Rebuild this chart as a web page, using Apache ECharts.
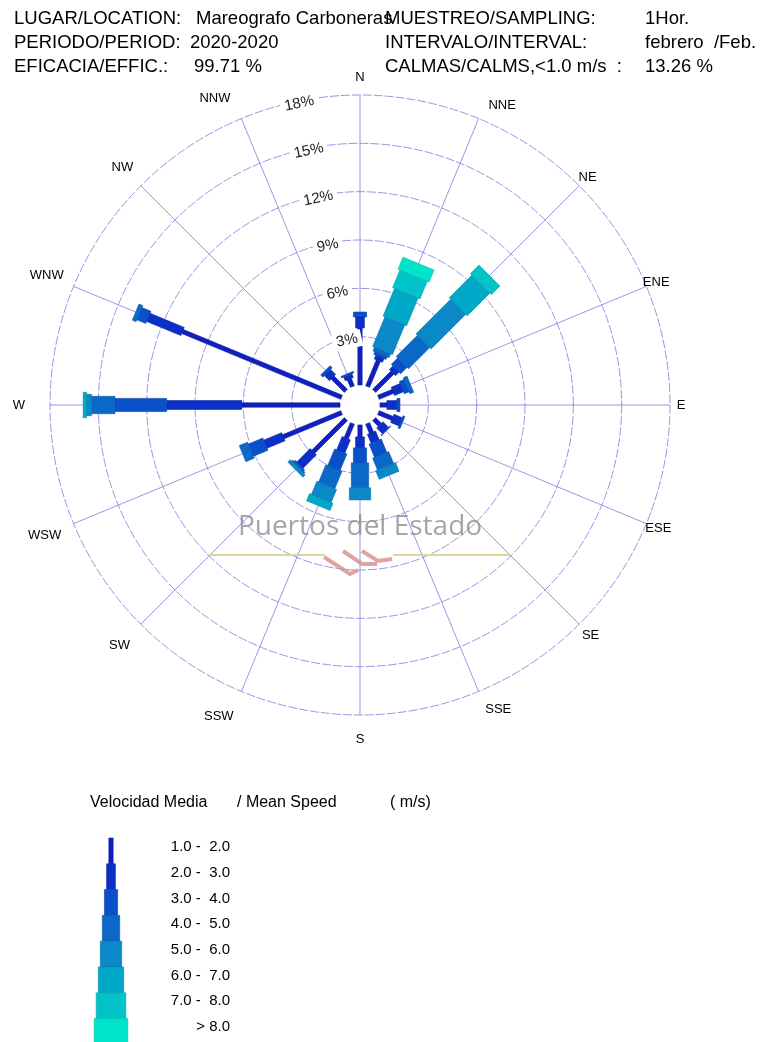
<!DOCTYPE html>
<html>
<head>
<meta charset="utf-8">
<script src="https://cdn.jsdelivr.net/npm/echarts@6/dist/echarts.min.js"></script>
<style>
html, body { margin: 0; padding: 0; background: #fff; }
#rose { width: 760px; height: 1042px; }
</style>
</head>
<body>
<div id="rose"></div>
<script>
const directions = ['N', 'NNE', 'NE', 'ENE', 'E', 'ESE', 'SE', 'SSE', 'S', 'SSW', 'SW', 'WSW', 'W', 'WNW', 'NW', 'NNW'];
const speedClasses = ['1.0 -  2.0', '2.0 -  3.0', '3.0 -  4.0', '4.0 -  5.0', '5.0 -  6.0', '6.0 -  7.0', '7.0 -  8.0', '> 8.0'];

// frequency (%) of each speed class, one value per direction (N .. NNW)
const v1to2 = [3.54, 1.74, 1.61, 0.97, 0.43, 0.93, 0.50, 0.62, 0.74, 0.99, 2.86, 3.91, 6.10, 10.68, 1.17, 0.50];
const v2to3 = [0.68, 0.25, 0.31, 0.60, 0.62, 0.56, 0.50, 0.60, 0.68, 0.89, 1.17, 1.21, 4.66, 2.30, 0.44, 0.25];
const v3to4 = [0.31, 0.18, 0.56, 0.32, 0.19, 0.12, 0.05, 0.89, 0.93, 1.11, 0.10, 0.97, 3.21, 0.60, 0.19, 0.10];
const v4to5 = [0, 0.25, 1.86, 0.25, 0, 0, 0, 0.79, 1.55, 1.17, 0.10, 0.56, 1.45, 0.25, 0, 0];
const v5to6 = [0, 1.99, 3.04, 0, 0, 0, 0, 0.58, 0.75, 0.88, 0.20, 0, 0.31, 0, 0, 0];
const v6to7 = [0, 1.86, 1.99, 0, 0, 0, 0, 0, 0, 0.48, 0, 0, 0.21, 0, 0, 0];
const v7to8 = [0, 1.18, 0.75, 0, 0, 0, 0, 0, 0, 0, 0, 0, 0, 0, 0, 0];
const vOver8 = [0, 0.81, 0, 0, 0, 0, 0, 0, 0, 0, 0, 0, 0, 0, 0, 0];

const ringTicks = [3, 6, 9, 12, 15, 18];

const classColors = ['#1020c0', '#0a30c8', '#0a50c8', '#0a68c8', '#0a88c8', '#00a8c8', '#00c4c8', '#00e4cc'];
const classStroke = ['#0a16a0', '#0822a8', '#0840a8', '#0855a8', '#0870a8', '#008ca8', '#00a6aa', '#00bcaa'];
const classWidths = [4.3, 8.8, 13.2, 17.4, 21.4, 25.4, 29.6, 33.6];

const font = '"Liberation Sans", Arial, sans-serif';
const gridColor = '#7c7ce0';
const hole = 1.24;          // calm circle, in % units
const extent = hole + 18;   // outer ring
const labelAngle = 348.6;

let chart = echarts.init(document.getElementById('rose'));

// stacked segments: [from, to, angle, class]
let classes = [v1to2, v2to3, v3to4, v4to5, v5to6, v6to7, v7to8, vOver8];
let bars = [];
directions.forEach((d, i) => {
  let acc = 0;
  classes.forEach((arr, k) => {
    if (arr[i] > 0) {
      bars.push([acc, acc + arr[i], i * 22.5, k]);
      acc += arr[i];
    }
  });
});

// percentage + compass angle -> x/y on the value axes
function toXY(v, ang) {
  let rho = hole + v, a = ang * Math.PI / 180;
  return [rho * Math.sin(a), rho * Math.cos(a)];
}

function renderBar(params, api) {
  let r0 = api.value(0), r1 = api.value(1), ang = api.value(2), k = api.value(3);
  let p0 = api.coord(toXY(r0, ang));
  let p1 = api.coord(toXY(r1, ang));
  let dx = p1[0] - p0[0], dy = p1[1] - p0[1];
  let len = Math.hypot(dx, dy) || 1;
  dx /= len; dy /= len;
  let h = classWidths[k] / 2;
  let nx = -dy * h, ny = dx * h;
  return {
    type: 'polygon',
    shape: { points: [
      [p0[0] + nx, p0[1] + ny], [p1[0] + nx, p1[1] + ny],
      [p1[0] - nx, p1[1] - ny], [p0[0] - nx, p0[1] - ny]
    ] },
    style: { fill: classColors[k], stroke: classStroke[k], lineWidth: 0.6 }
  };
}

function renderRing(params, api) {
  let c = api.coord([0, 0]);
  let p = api.coord(toXY(api.value(0), 90));
  return {
    type: 'circle',
    shape: { cx: c[0], cy: c[1], r: p[0] - c[0] },
    style: { fill: null, stroke: gridColor, lineWidth: 0.8, lineDash: [9, 2] }
  };
}

function renderSpoke(params, api) {
  let ang = api.value(1);
  let p0 = api.coord(toXY(0, ang));
  let p1 = api.coord(toXY(18, ang));
  return {
    type: 'line',
    shape: { x1: p0[0], y1: p0[1], x2: p1[0], y2: p1[1] },
    style: { stroke: gridColor, lineWidth: 0.8 }
  };
}

function renderDirLabel(params, api) {
  let i = params.dataIndex;
  let ang = api.value(1) * Math.PI / 180;
  let c = api.coord([0, 0]);
  let ux = Math.sin(ang), uy = -Math.cos(ang);
  let r = 331 - 10 * ux + 3 * uy;
  // the original pushes the near-vertical labels sideways
  let side = (i === 1 || i === 15) ? 18 : (i === 7 || i === 9) ? 12 : 0;
  return {
    type: 'text', x: c[0] + ux * r + Math.sign(Math.round(ux * 100)) * side, y: c[1] + uy * r,
    style: { text: directions[i], font: '13px ' + font, fill: '#000', align: 'center', verticalAlign: 'middle' }
  };
}

function renderRingLabel(params, api) {
  let p = api.coord(toXY(api.value(0) - 0.15, labelAngle));
  return {
    type: 'text',
    x: p[0], y: p[1],
    rotation: 12 * Math.PI / 180,
    style: {
      text: api.value(0) + '%',
      font: '15px ' + font,
      fill: '#222',
      align: 'center',
      verticalAlign: 'middle',
      backgroundColor: '#fff',
      padding: [1, 4]
    }
  };
}

// header lines
let header = [
  ['LUGAR/LOCATION:', 14, 19], ['Mareografo Carboneras', 196, 19], ['MUESTREO/SAMPLING:', 385, 19], ['1Hor.', 645, 19],
  ['PERIODO/PERIOD:', 14, 43], ['2020-2020', 190, 43], ['INTERVALO/INTERVAL:', 385, 43], ['febrero  /Feb.', 645, 43],
  ['EFICACIA/EFFIC.:', 14, 67], ['99.71 %', 194, 67], ['CALMAS/CALMS,<1.0 m/s  :', 385, 67], ['13.26 %', 645, 67]
];

let graphics = header.map(h => ({
  type: 'text', x: h[1], y: h[2],
  style: { text: h[0], font: '18.5px ' + font, fill: '#000', verticalAlign: 'middle' }
}));

// watermark
graphics.push({
  type: 'text', x: 360, y: 527, z: 10,
  style: { text: 'Puertos del Estado', font: '28px "Open Sans", sans-serif', fill: 'rgba(135,135,135,0.75)', align: 'center', verticalAlign: 'middle' }
});
graphics.push({ type: 'line', z: 10, shape: { x1: 207, y1: 555, x2: 325, y2: 555 }, style: { stroke: '#e2d49c', lineWidth: 2 } });
graphics.push({ type: 'line', z: 10, shape: { x1: 393, y1: 555, x2: 510, y2: 555 }, style: { stroke: '#e2d49c', lineWidth: 2 } });
[[[324, 557], [350, 574], [358, 570]], [[343, 551], [362, 564], [377, 564]], [[362, 551], [378, 561], [392, 559]]].forEach(pts => {
  graphics.push({ type: 'polyline', z: 10, shape: { points: pts }, style: { stroke: 'rgba(214,140,140,0.8)', lineWidth: 4, fill: null } });
});

// legend
graphics.push({ type: 'text', x: 90, y: 803, style: { text: 'Velocidad Media', font: '16px ' + font, fill: '#000', verticalAlign: 'middle' } });
graphics.push({ type: 'text', x: 237, y: 803, style: { text: '/ Mean Speed', font: '16px ' + font, fill: '#000', verticalAlign: 'middle' } });
graphics.push({ type: 'text', x: 390, y: 803, style: { text: '( m/s)', font: '16px ' + font, fill: '#000', verticalAlign: 'middle' } });
speedClasses.forEach((name, k) => {
  let w = classWidths[k];
  graphics.push({
    type: 'rect', shape: { x: 111 - w / 2, y: 838 + k * 25.8, width: w, height: 25.8 },
    style: { fill: classColors[k], stroke: classStroke[k], lineWidth: 0.6 }
  });
  graphics.push({
    type: 'text', x: 230, y: 847 + k * 25.7,
    style: { text: name, font: '15px ' + font, fill: '#000', align: 'right', verticalAlign: 'middle' }
  });
});

let dirData = directions.map((d, i) => [18, i * 22.5]);

let option = {
  animation: false,
  backgroundColor: '#fff',
  tooltip: { show: false },
  grid: { left: 50, top: 95, width: 620, height: 620 },
  xAxis: { type: 'value', min: -extent, max: extent, show: false },
  yAxis: { type: 'value', min: -extent, max: extent, show: false },
  series: [
    {
      type: 'custom', silent: true, z: 1, clip: false,
      encode: { x: 0, y: 1 },
      data: ringTicks.map(t => [t, 0]),
      renderItem: renderRing
    },
    {
      type: 'custom', silent: true, z: 1, clip: false,
      encode: { x: 0, y: 1 },
      data: dirData,
      renderItem: renderSpoke
    },
    {
      type: 'custom', silent: true, z: 1, clip: false,
      encode: { x: 0, y: 1 },
      data: dirData,
      renderItem: renderDirLabel
    },
    {
      type: 'custom', silent: true, z: 3, clip: false,
      encode: { x: 0, y: 1 },
      data: bars,
      renderItem: renderBar
    },
    {
      type: 'custom', silent: true, z: 5, clip: false,
      encode: { x: 0, y: 1 },
      data: ringTicks.map(t => [t, labelAngle]),
      renderItem: renderRingLabel
    }
  ],
  graphic: graphics
};

chart.setOption(option);
</script>
</body>
</html>
